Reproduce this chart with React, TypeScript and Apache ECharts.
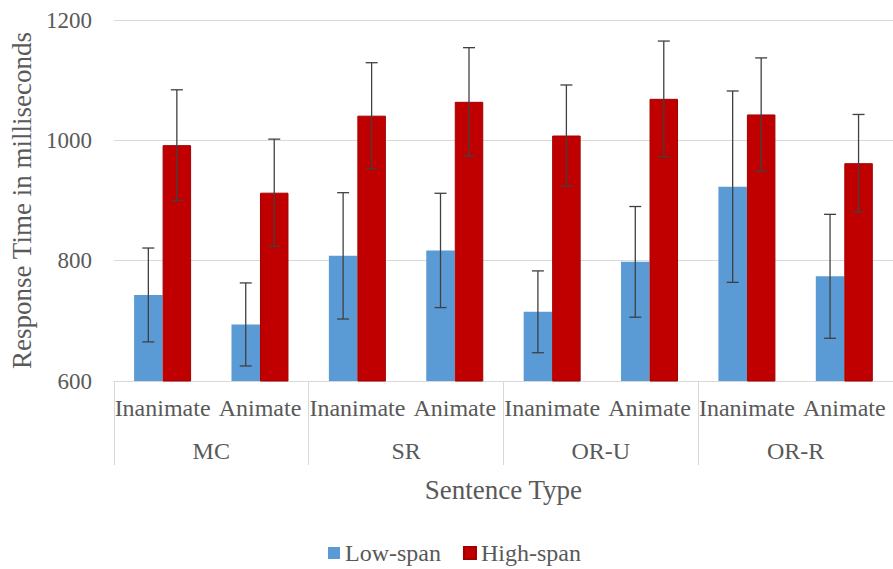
import React, { useEffect, useRef } from "react";
import * as echarts from "echarts";

const subCategories = ["Inanimate", "Animate", "Inanimate", "Animate", "Inanimate", "Animate", "Inanimate", "Animate"];
const groups = ["MC", "SR", "OR-U", "OR-R"];
const lowSpan = [743, 694, 808, 817, 715, 798, 923, 774];
const lowSpanErr = [78, 69, 105, 95, 68, 92, 159, 103];
const highSpan = [992, 913, 1041, 1064, 1008, 1069, 1043, 962];
const highSpanErr = [92, 89, 88, 90, 84, 96, 94, 81];
const yTicks = { min: 600, max: 1200, interval: 200 };

const FONT = "Times New Roman, Liberation Serif, DejaVu Serif, serif";
const TEXT = "#595959";
const BAR_W = 28.5;

function errorSeries(name: string, values: number[], errs: number[], side: number) {
  return {
    name: name + "-err",
    type: "custom",
    z: 10,
    silent: true,
    encode: { x: 0, y: 1 },
    data: values.map((v, i) => [i, v, errs[i]]),
    renderItem: (params: any, api: any) => {
      const i = api.value(0);
      const v = api.value(1);
      const e = api.value(2);
      const top = api.coord([i, v + e]);
      const bot = api.coord([i, v - e]);
      const x = top[0] + side * (BAR_W / 2);
      const cap = 6;
      const style = { stroke: "#404040", lineWidth: 1.3 };
      return {
        type: "group",
        children: [
          { type: "line", shape: { x1: x, y1: top[1], x2: x, y2: bot[1] }, style },
          { type: "line", shape: { x1: x - cap, y1: top[1], x2: x + cap, y2: top[1] }, style },
          { type: "line", shape: { x1: x - cap, y1: bot[1], x2: x + cap, y2: bot[1] }, style },
        ],
      };
    },
  };
}

export default function App() {
  const ref = useRef<HTMLDivElement>(null);
  useEffect(() => {
    if (!ref.current) return;
    const chart = echarts.init(ref.current, undefined, { renderer: "svg" });
    chart.setOption({
      animation: false,
      backgroundColor: "#ffffff",
      textStyle: { fontFamily: FONT },
      grid: { left: 110, top: 20, width: 790, height: 361, containLabel: false },
      legend: {
        data: ["Low-span", "High-span"],
        left: 328,
        top: 541,
        padding: 0,
        itemWidth: 12,
        itemHeight: 12,
        itemGap: 22,
        icon: "rect",
        textStyle: { fontFamily: FONT, fontSize: 24, color: TEXT },
      },
      xAxis: [
        {
          type: "category",
          data: subCategories,
          axisLine: { show: true, lineStyle: { color: "#d9d9d9", width: 1 } },
          axisTick: { show: false },
          axisLabel: { interval: 0, margin: 15, fontFamily: FONT, fontSize: 24, color: TEXT },
          splitLine: { show: false },
        },
        {
          type: "category",
          data: groups,
          position: "bottom",
          axisLine: { show: false },
          axisTick: { show: true, length: 84, lineStyle: { color: "#d9d9d9", width: 1 } },
          axisLabel: { interval: 0, margin: 58, fontFamily: FONT, fontSize: 24, color: TEXT },
          splitLine: { show: false },
          name: "Sentence Type",
          nameLocation: "middle",
          nameGap: 95,
          nameTextStyle: { fontFamily: FONT, fontSize: 27, color: TEXT },
        },
      ],
      yAxis: {
        type: "value",
        min: yTicks.min,
        max: yTicks.max,
        interval: yTicks.interval,
        axisLine: { show: false },
        axisTick: { show: false },
        axisLabel: { margin: 22, fontFamily: FONT, fontSize: 23, color: TEXT, formatter: (v: number) => String(v) },
        splitLine: { lineStyle: { color: "#d9d9d9", width: 1 } },
        name: "Response Time in milliseconds",
        nameLocation: "middle",
        nameGap: 76,
        nameTextStyle: { fontFamily: FONT, fontSize: 27, color: TEXT },
      },
      series: [
        {
          name: "Low-span",
          type: "bar",
          data: lowSpan,
          barWidth: BAR_W,
          barGap: "0%",
          itemStyle: { color: "#5B9BD5" },
        },
        {
          name: "High-span",
          type: "bar",
          data: highSpan,
          barWidth: BAR_W,
          barGap: "0%",
          itemStyle: { color: "#C00000", borderColor: "#a00000", borderWidth: 1 },
        },
        errorSeries("Low-span", lowSpan, lowSpanErr, -1),
        errorSeries("High-span", highSpan, highSpanErr, 1),
      ],
    });
    return () => chart.dispose();
  }, []);
  return <div ref={ref} style={{ width: 893, height: 569, position: "absolute", left: 0, top: 0 }} />;
}
